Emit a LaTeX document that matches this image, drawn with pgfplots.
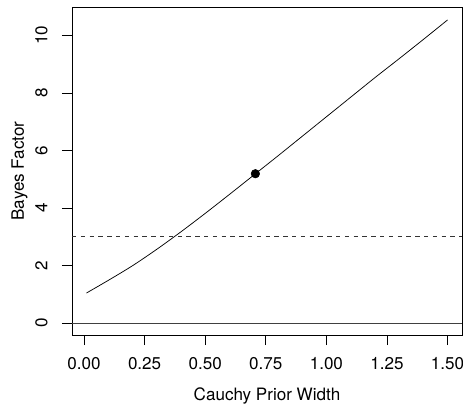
\documentclass[border=0pt]{standalone}
\usepackage{fontspec}
\setmainfont{TeX Gyre Heros}
\usepackage{pgfplots}
\pgfplotsset{compat=1.18}

\begin{document}
\fontsize{12.8}{15}\selectfont
\begin{tikzpicture}
    \begin{axis}[
        name=ax,
        scale only axis,
        width=292.5pt, height=246pt,
        xmin=-0.0496, xmax=1.5596,
        ymin=-0.42, ymax=10.99,
        axis line style={line width=0.6pt},
        tick style={black, line width=0.6pt},
        tick align=outside,
        major tick length=7.5pt,
        xtick={0,0.25,...,1.5},
        ytick={0,2,...,10},
        xtick pos=bottom, ytick pos=left,
        /pgf/number format/assume math mode=true,
        xticklabel={\pgfmathprintnumber[fixed,fixed zerofill,precision=2]{\tick}},
        xticklabel style={anchor=base, yshift=-18.5pt},
        yticklabel style={rotate=90, anchor=base, yshift=11pt},
        xlabel={Cauchy Prior Width},
        ylabel={Bayes Factor},
        xlabel style={at={(0.5,0)}, anchor=base, yshift=-48.75pt},
        ylabel style={at={(0,0.5)}, anchor=base, yshift=36pt},
        clip=false,
    ]
    % reference lines
    \addplot[black!75, line width=0.6pt] coordinates {(-0.0496,0) (1.5596,0)};
    \addplot[black!80, line width=0.5pt, dash pattern=on 3.3pt off 3.3pt] coordinates {(-0.0496,3) (1.5596,3)};

    % Bayes factor vs prior width
    \addplot[black, line width=0.55pt, smooth] coordinates {
        (0.01, 1.04)
        (0.10, 1.48)
        (0.20, 1.99)
        (0.30, 2.56)
        (0.40, 3.17)
        (0.50, 3.81)
        (0.60, 4.47)
        (0.70, 5.14)
        (0.80, 5.81)
        (0.90, 6.49)
        (1.00, 7.17)
        (1.10, 7.85)
        (1.20, 8.53)
        (1.30, 9.19)
        (1.40, 9.86)
        (1.50, 10.54)
    };

    % default width r = sqrt(2)/2
    \addplot[only marks, mark=*, mark size=3.2pt, black] coordinates {(0.707, 5.19)};
    \end{axis}
    \pgfresetboundingbox
    \path[use as bounding box] ([xshift=-54pt,yshift=-51pt]ax.south west) rectangle ([xshift=0.75pt,yshift=5.25pt]ax.north east);
\end{tikzpicture}
\end{document}
